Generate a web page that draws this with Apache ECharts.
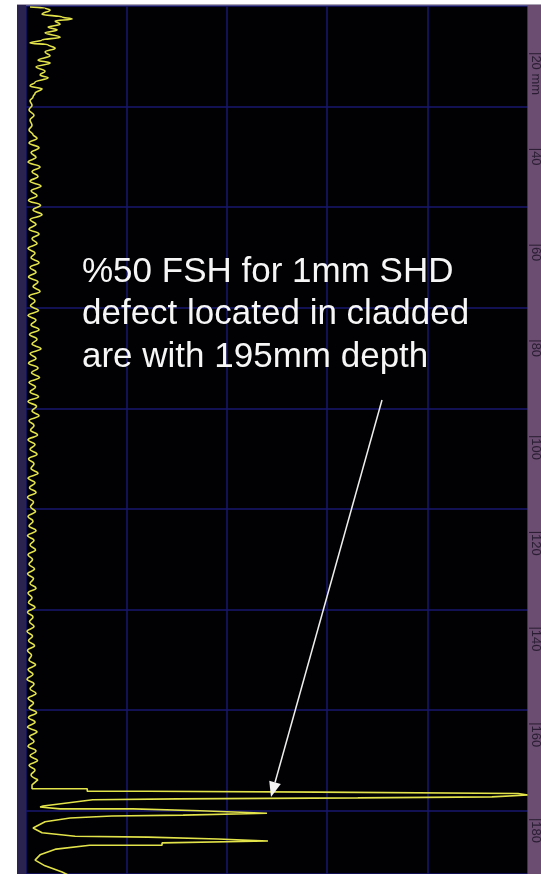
<!DOCTYPE html>
<html>
<head>
<meta charset="utf-8">
<title>A-scan depth trace</title>
<script src="https://cdn.jsdelivr.net/npm/echarts@6/dist/echarts.min.js"></script>
<style>
  html, body { margin: 0; padding: 0; background: #ffffff; }
  #chart { width: 541px; height: 874px; }
</style>
</head>
<body>
<div id="chart"></div>
<script>
// Depth scale labels (mm) on the right edge
const depthTicks = [20, 40, 60, 80, 100, 120, 140, 160, 180];

// Near-surface noise: depth (mm) and amplitude (% full screen height)
const surfaceDepth = [10.6, 10.8, 11.2, 12.1, 12.7, 13.1, 13.5, 14.2, 14.8, 15.4, 16.0, 16.9, 17.5, 18.1, 18.5, 19.2, 20.0, 20.8, 21.7, 22.3, 23.1, 24.0, 24.8, 25.4, 26.3, 27.1, 27.7, 28.6, 29.4, 30.2, 31.1, 32.1, 33.2, 34.2, 35.3, 36.3, 37.3];
const surfaceAmp   = [0.8, 3.8, 4.8, 3.2, 7.2, 9.2, 5.8, 6.8, 4.4, 6.2, 3.8, 6.8, 3.2, 0.8, 4.4, 5.8, 3.8, 4.8, 2.4, 4.8, 2.0, 3.8, 2.8, 4.4, 1.8, 0.8, 3.2, 1.8, 1.4, 0.8, 1.2, 0.6, 1.6, 0.8, 1.2, 0.6, 1.4];

// Grass noise through the body, sampled every 1 mm from 38 mm
const grassStart = 38;
const grassAmp = [
  2.2, 0.6, 2.6, 1.0, 2.0, 0.4, 2.8, 1.2, 2.4, 0.8, 3.0, 1.0, 2.2,
  0.5, 2.9, 1.4, 3.2, 0.8, 2.0, 0.6, 2.6, 1.2, 2.2, 0.4, 1.8, 1.0,
  2.6, 0.8, 2.0, 0.5, 2.4, 1.4, 2.8, 0.6, 1.8, 0.9, 2.5, 0.4, 2.0,
  1.0, 2.6, 0.7, 2.2, 1.2, 3.0, 0.8, 2.0, 0.5, 2.4, 1.1, 2.7, 0.6,
  1.9, 0.8, 2.5, 0.4, 2.1, 1.2, 2.6, 0.6, 1.6, 0.9, 2.3, 0.4, 1.8,
  0.8, 2.2, 0.5, 1.6, 1.0, 2.4, 0.4, 1.8, 0.7, 2.0, 0.3, 1.5, 0.9,
  1.9, 0.4, 1.4, 0.6, 2.0, 0.3, 1.6, 0.8, 1.9, 0.4, 1.3, 0.6, 1.7,
  0.3, 1.5, 0.8, 2.0, 0.4, 1.2, 0.5, 1.8, 0.3, 1.4, 0.7, 1.6, 0.2,
  1.3, 0.5, 1.7, 0.3, 1.1, 0.6, 1.9, 0.4, 1.4, 0.2, 1.6, 0.8, 2.0,
  0.4, 1.5, 0.6, 2.1, 0.5, 1.8, 0.3, 2.2, 0.7, 1.6, 0.4, 2.0, 0.8,
  2.3, 0.6, 1.8, 1.0, 2.4
];

// Defect echo and its ringing
const echoDepth = [172.0, 173.1, 173.9, 173.9, 174.4, 174.4, 174.6, 174.6, 174.9, 174.9, 175.2,
                   175.6, 175.6, 175.8, 175.8, 176.0, 176.0, 176.2, 176.2, 177.5, 177.7,
                   178.1, 178.1, 178.5, 178.5, 178.8, 179.0, 179.4, 179.4, 179.6, 179.6,
                   180.0, 180.8, 182.1, 183.1, 183.8, 184.0, 184.4, 184.4, 184.8, 185.2,
                   185.2, 185.7, 185.7, 186.5, 187.7, 188.8, 190.0, 191.3, 192.1];
const echoAmp   = [2.4, 1.2, 1.2, 12.2, 12.2, 24.3, 24.3, 58.2, 58.2, 98.0, 100,
                   100, 92.8, 92.8, 66.1, 66.1, 30.1, 30.1, 13.3, 3.4, 2.8,
                   6.8, 21.3, 21.3, 34.7, 34.7, 48.0, 48.0, 31.3, 31.3, 17.1,
                   8.8, 3.8, 1.4, 3.2, 9.8, 24.3, 24.3, 38.2, 48.2, 48.2,
                   27.1, 27.1, 12.7, 6.0, 2.8, 1.8, 3.8, 7.2, 8.8];

// Noise part of the trace as [amplitude, depth] pairs
const noise = [];
surfaceDepth.forEach((d, i) => noise.push([surfaceAmp[i], d]));
grassAmp.forEach((a, i) => noise.push([a, grassStart + i]));
// Echo part
const echo = echoDepth.map((d, i) => [echoAmp[i], d]);

const chart = echarts.init(document.getElementById('chart'), null, { renderer: 'canvas' });

const gridBlue = '#17176e';
const traceYellow = '#e2e24a';

chart.setOption({
  backgroundColor: '#ffffff',
  animation: false,
  grid: {
    left: 26, right: 13, top: 6, bottom: 0,
    show: true, backgroundColor: '#010104', borderWidth: 0
  },
  xAxis: {
    type: 'value', min: 0, max: 100, interval: 20,
    axisLine: { show: false }, axisTick: { show: false }, axisLabel: { show: false },
    splitLine: { show: true, lineStyle: { color: gridBlue, width: 1.5 } }
  },
  yAxis: [
    {
      // screen divisions
      type: 'value', inverse: true, min: 0, max: 8.631, interval: 1,
      axisLine: { show: false }, axisTick: { show: false }, axisLabel: { show: false },
      splitLine: { show: true, lineStyle: { color: gridBlue, width: 1.5 } }
    },
    {
      // depth in mm (labels are drawn along the right strip below)
      type: 'value', inverse: true, position: 'right', min: 10.39, max: 191.7,
      axisLine: { show: false }, axisTick: { show: false },
      axisLabel: { show: false }, splitLine: { show: false }
    }
  ],
  series: [
    {
      type: 'line',
      yAxisIndex: 1,
      data: noise,
      showSymbol: false,
      smooth: 0.4,
      smoothMonotone: 'y',
      lineStyle: { color: traceYellow, width: 1.6 },
      z: 5
    },
    {
      type: 'line',
      yAxisIndex: 1,
      data: echo,
      showSymbol: false,
      smooth: false,
      lineStyle: { color: traceYellow, width: 1.6 },
      z: 5
    }
  ]
});

// Frame strips, depth labels, annotation and pointer
const tip = chart.convertToPixel({ xAxisIndex: 0, yAxisIndex: 1 }, [48.8, 175.6]);
const tail = [382, 400];
const ang = Math.atan2(tip[1] - tail[1], tip[0] - tail[0]);
const headLen = 15, headW = 6;
const base = [tip[0] - headLen * Math.cos(ang), tip[1] - headLen * Math.sin(ang)];
const nx = -Math.sin(ang), ny = Math.cos(ang);
const noteFont = '35px "Liberation Sans", Arial, sans-serif';

const depthLabels = depthTicks.map(v => ({
  type: 'text',
  x: 535.5,
  y: chart.convertToPixel({ yAxisIndex: 1 }, v),
  rotation: -Math.PI / 2,
  z: 12,
  style: {
    text: v === 20 ? '|20 mm' : '|' + v,
    fill: '#2a1d33',
    font: '13px "Liberation Sans", Arial, sans-serif',
    align: 'left',
    verticalAlign: 'middle'
  }
}));

chart.setOption({
  graphic: [
    { type: 'rect', shape: { x: 17, y: 4, width: 9, height: 870 }, style: { fill: '#2a2350' }, z: 10 },
    { type: 'rect', shape: { x: 527.5, y: 4, width: 14, height: 870 }, style: { fill: '#6a4d70' }, z: 10 },
    { type: 'line', shape: { x1: 17, y1: 4.5, x2: 541, y2: 4.5 }, style: { stroke: '#a9a3b4', lineWidth: 1 }, z: 10 },
    ...depthLabels,
    {
      type: 'text', x: 82, y: 272, z: 20,
      style: { text: '%50 FSH for 1mm SHD', fill: '#f6f6f6', font: noteFont, verticalAlign: 'middle' }
    },
    {
      type: 'text', x: 82, y: 314, z: 20,
      style: { text: 'defect located in cladded', fill: '#f6f6f6', font: noteFont, verticalAlign: 'middle' }
    },
    {
      type: 'text', x: 82, y: 357, z: 20,
      style: { text: 'are with 195mm depth', fill: '#f6f6f6', font: noteFont, verticalAlign: 'middle' }
    },
    {
      type: 'line', z: 20,
      shape: { x1: tail[0], y1: tail[1], x2: base[0], y2: base[1] },
      style: { stroke: '#eeeeee', lineWidth: 1.5 }
    },
    {
      type: 'polygon', z: 20,
      shape: { points: [tip, [base[0] + nx * headW, base[1] + ny * headW], [base[0] - nx * headW, base[1] - ny * headW]] },
      style: { fill: '#f4f4f4' }
    }
  ]
});
</script>
</body>
</html>
